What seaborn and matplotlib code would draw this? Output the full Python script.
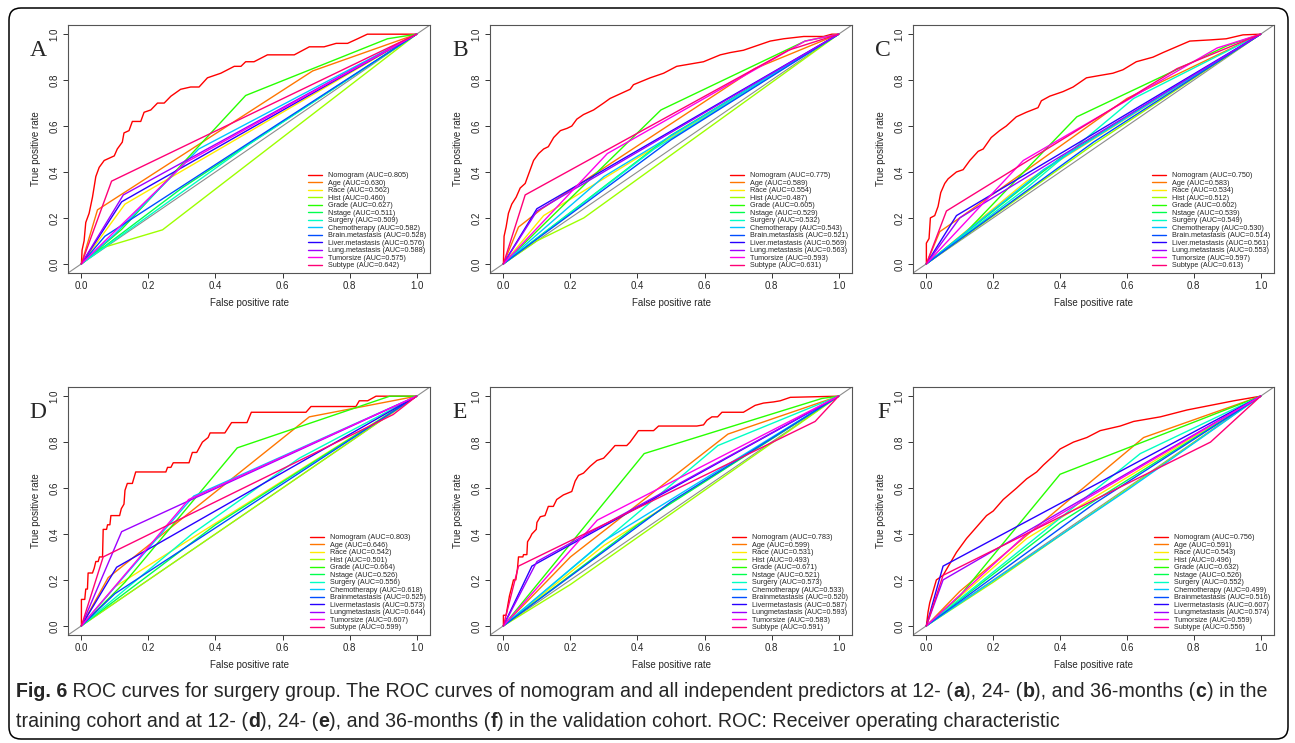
import colorsys
import matplotlib
matplotlib.use("Agg")
import matplotlib.pyplot as plt
from matplotlib.patches import FancyBboxPatch
import pandas as pd
import seaborn as sns

W, H = 1295, 743

# ---------------- data ----------------
names_train = ["Nomogram", "Age", "Race", "Hist", "Grade", "Nstage", "Surgery",
               "Chemotherapy", "Brain.metastasis", "Liver.metastasis",
               "Lung.metastasis", "Tumorsize", "Subtype"]
names_valid = ["Nomogram", "Age", "Race", "Hist", "Grade", "Nstage", "Surgery",
               "Chemotherapy", "Brainmetastasis", "Livermetastasis",
               "Lungmetastasis", "Tumorsize", "Subtype"]

A_auc = [0.805, 0.630, 0.562, 0.460, 0.627, 0.511, 0.509, 0.582, 0.528, 0.576, 0.588, 0.575, 0.642]
B_auc = [0.775, 0.589, 0.554, 0.487, 0.605, 0.529, 0.532, 0.543, 0.521, 0.569, 0.563, 0.593, 0.631]
C_auc = [0.750, 0.583, 0.534, 0.512, 0.602, 0.539, 0.549, 0.530, 0.514, 0.561, 0.553, 0.597, 0.613]
D_auc = [0.803, 0.646, 0.542, 0.501, 0.664, 0.526, 0.556, 0.618, 0.525, 0.573, 0.644, 0.607, 0.599]
E_auc = [0.783, 0.599, 0.531, 0.493, 0.671, 0.521, 0.573, 0.533, 0.520, 0.587, 0.593, 0.583, 0.591]
F_auc = [0.756, 0.591, 0.543, 0.496, 0.632, 0.526, 0.552, 0.499, 0.516, 0.607, 0.574, 0.559, 0.556]

A_nomogram = [(0, 0), (0.002, 0.06), (0.008, 0.10), (0.013, 0.18), (0.023, 0.22), (0.033, 0.29),
              (0.043, 0.38), (0.053, 0.42), (0.068, 0.45), (0.098, 0.47), (0.107, 0.50), (0.122, 0.53),
              (0.127, 0.57), (0.142, 0.58), (0.152, 0.62), (0.177, 0.62), (0.187, 0.66), (0.207, 0.67),
              (0.227, 0.70), (0.247, 0.70), (0.267, 0.73), (0.296, 0.76), (0.326, 0.77), (0.351, 0.77),
              (0.376, 0.81), (0.416, 0.83), (0.456, 0.86), (0.476, 0.86), (0.49, 0.88), (0.515, 0.88),
              (0.555, 0.91), (0.635, 0.91), (0.68, 0.945), (0.724, 0.945), (0.76, 0.96), (0.794, 0.96),
              (0.824, 0.98), (0.853, 1.0), (1, 1)]
A_predictors = [
    [(0, 0), (0.048, 0.235), (0.69, 0.84), (1, 1)],
    [(0, 0), (0.13, 0.26), (1, 1)],
    [(0, 0), (0.058, 0.068), (0.242, 0.148), (1, 1)],
    [(0, 0), (0.12, 0.15), (0.49, 0.733), (0.913, 0.98), (1, 1)],
    [(0, 0), (0.3, 0.33), (1, 1)],
    [(0, 0), (0.5, 0.52), (1, 1)],
    [(0, 0), (0.1, 0.13), (0.35, 0.5), (1, 1)],
    [(0, 0), (0.07, 0.12), (1, 1)],
    [(0, 0), (0.12, 0.27), (1, 1)],
    [(0, 0), (0.125, 0.30), (1, 1)],
    [(0, 0), (0.31, 0.44), (1, 1)],
    [(0, 0), (0.09, 0.36), (1, 1)],
]

B_nomogram = [(0, 0), (0.002, 0.12), (0.008, 0.16), (0.015, 0.22), (0.025, 0.26), (0.038, 0.29),
              (0.05, 0.33), (0.065, 0.35), (0.075, 0.39), (0.09, 0.45), (0.105, 0.48), (0.12, 0.50),
              (0.134, 0.51), (0.15, 0.55), (0.17, 0.58), (0.19, 0.59), (0.204, 0.60), (0.219, 0.63),
              (0.239, 0.65), (0.269, 0.67), (0.299, 0.70), (0.318, 0.72), (0.348, 0.74), (0.378, 0.76),
              (0.388, 0.78), (0.438, 0.81), (0.478, 0.83), (0.517, 0.86), (0.557, 0.87), (0.597, 0.88),
              (0.647, 0.91), (0.677, 0.92), (0.716, 0.93), (0.756, 0.95), (0.796, 0.97), (0.836, 0.98),
              (0.896, 0.99), (0.955, 0.99), (0.98, 1.0), (1, 1)]
B_predictors = [
    [(0, 0), (0.045, 0.16), (0.115, 0.24), (0.75, 0.85), (1, 1)],
    [(0, 0), (0.12, 0.21), (1, 1)],
    [(0, 0), (0.1, 0.1), (0.24, 0.2), (1, 1)],
    [(0, 0), (0.47, 0.67), (0.9, 0.97), (1, 1)],
    [(0, 0), (0.5, 0.56), (1, 1)],
    [(0, 0), (0.45, 0.5), (1, 1)],
    [(0, 0), (0.3, 0.38), (1, 1)],
    [(0, 0), (0.5, 0.54), (1, 1)],
    [(0, 0), (0.1, 0.24), (1, 1)],
    [(0, 0), (0.1, 0.23), (1, 1)],
    [(0, 0), (0.31, 0.48), (0.9, 0.97), (1, 1)],
    [(0, 0), (0.065, 0.30), (0.85, 0.93), (1, 1)],
]

C_nomogram = [(0, 0), (0, 0.09), (0.008, 0.11), (0.012, 0.2), (0.025, 0.21), (0.035, 0.25),
              (0.043, 0.31), (0.055, 0.35), (0.065, 0.37), (0.09, 0.40), (0.11, 0.41), (0.13, 0.45),
              (0.155, 0.49), (0.17, 0.50), (0.194, 0.55), (0.219, 0.58), (0.239, 0.60), (0.269, 0.64),
              (0.299, 0.66), (0.334, 0.68), (0.344, 0.71), (0.369, 0.73), (0.409, 0.75), (0.439, 0.77),
              (0.479, 0.81), (0.518, 0.82), (0.558, 0.83), (0.588, 0.845), (0.628, 0.88), (0.678, 0.90),
              (0.708, 0.92), (0.748, 0.945), (0.788, 0.97), (0.848, 0.975), (0.897, 0.98),
              (0.947, 0.997), (1, 1)]
C_predictors = [
    [(0, 0), (0.04, 0.14), (0.1, 0.2), (0.6, 0.72), (1, 1)],
    [(0, 0), (0.3, 0.36), (1, 1)],
    [(0, 0), (0.5, 0.52), (1, 1)],
    [(0, 0), (0.12, 0.14), (0.45, 0.64), (0.9, 0.95), (1, 1)],
    [(0, 0), (0.4, 0.46), (1, 1)],
    [(0, 0), (0.3, 0.33), (0.62, 0.72), (1, 1)],
    [(0, 0), (0.35, 0.41), (1, 1)],
    [(0, 0), (0.5, 0.53), (1, 1)],
    [(0, 0), (0.09, 0.21), (1, 1)],
    [(0, 0), (0.1, 0.2), (1, 1)],
    [(0, 0), (0.29, 0.45), (0.87, 0.94), (1, 1)],
    [(0, 0), (0.06, 0.23), (0.75, 0.85), (1, 1)],
]

D_nomogram = [(0, 0), (0, 0.115), (0.01, 0.115), (0.013, 0.16), (0.018, 0.16), (0.02, 0.23),
              (0.033, 0.23), (0.038, 0.25), (0.043, 0.28), (0.05, 0.28), (0.054, 0.30), (0.063, 0.30),
              (0.065, 0.42), (0.075, 0.42), (0.078, 0.44), (0.085, 0.44), (0.088, 0.48), (0.114, 0.48),
              (0.119, 0.51), (0.127, 0.53), (0.13, 0.59), (0.137, 0.62), (0.152, 0.62), (0.162, 0.67),
              (0.252, 0.67), (0.257, 0.69), (0.267, 0.69), (0.274, 0.71), (0.321, 0.71), (0.331, 0.755),
              (0.344, 0.755), (0.361, 0.80), (0.378, 0.82), (0.384, 0.84), (0.428, 0.84), (0.448, 0.885),
              (0.494, 0.885), (0.507, 0.93), (0.67, 0.93), (0.685, 0.955), (0.819, 0.955), (0.829, 0.98),
              (0.854, 0.98), (0.879, 1.0), (1, 1)]
D_predictors = [
    [(0, 0), (0.08, 0.21), (0.68, 0.91), (1, 1)],
    [(0, 0), (0.1, 0.17), (1, 1)],
    [(0, 0), (0.2, 0.2), (1, 1)],
    [(0, 0), (0.13, 0.19), (0.465, 0.775), (0.92, 1.0), (1, 1)],
    [(0, 0), (0.4, 0.44), (1, 1)],
    [(0, 0), (0.33, 0.4), (0.65, 0.73), (1, 1)],
    [(0, 0), (0.335, 0.565), (1, 1)],
    [(0, 0), (0.1, 0.14), (1, 1)],
    [(0, 0), (0.105, 0.255), (1, 1)],
    [(0, 0), (0.12, 0.41), (1, 1)],
    [(0, 0), (0.32, 0.55), (1, 1)],
    [(0, 0), (0.065, 0.30), (0.93, 0.92), (1, 1)],
]

E_nomogram = [(0, 0), (0, 0.046), (0.008, 0.046), (0.012, 0.08), (0.018, 0.13), (0.025, 0.17),
              (0.03, 0.2), (0.037, 0.2), (0.042, 0.25), (0.045, 0.30), (0.058, 0.30), (0.06, 0.31),
              (0.07, 0.31), (0.072, 0.366), (0.08, 0.385), (0.085, 0.40), (0.098, 0.42), (0.1, 0.45),
              (0.11, 0.475), (0.124, 0.48), (0.134, 0.52), (0.149, 0.52), (0.159, 0.55), (0.179, 0.57),
              (0.204, 0.585), (0.214, 0.63), (0.224, 0.655), (0.239, 0.665), (0.259, 0.695),
              (0.279, 0.72), (0.299, 0.73), (0.318, 0.76), (0.333, 0.785), (0.368, 0.785), (0.378, 0.80),
              (0.403, 0.85), (0.448, 0.85), (0.463, 0.87), (0.577, 0.87), (0.597, 0.875), (0.607, 0.895),
              (0.622, 0.91), (0.639, 0.91), (0.652, 0.93), (0.716, 0.93), (0.751, 0.96), (0.776, 0.97),
              (0.806, 0.975), (0.826, 0.98), (0.856, 0.995), (1, 1)]
E_predictors = [
    [(0, 0), (0.2, 0.3), (0.67, 0.835), (1, 1)],
    [(0, 0), (0.3, 0.35), (1, 1)],
    [(0, 0), (0.2, 0.18), (1, 1)],
    [(0, 0), (0.42, 0.75), (0.95, 0.99), (1, 1)],
    [(0, 0), (0.4, 0.44), (1, 1)],
    [(0, 0), (0.64, 0.785), (1, 1)],
    [(0, 0), (0.3, 0.37), (1, 1)],
    [(0, 0), (0.5, 0.54), (1, 1)],
    [(0, 0), (0.085, 0.26), (1, 1)],
    [(0, 0), (0.1, 0.28), (1, 1)],
    [(0, 0), (0.28, 0.46), (1, 1)],
    [(0, 0), (0.045, 0.26), (0.93, 0.89), (1, 1)],
]

F_nomogram = [(0, 0), (0.005, 0.06), (0.01, 0.1), (0.02, 0.15), (0.03, 0.2), (0.05, 0.22),
              (0.07, 0.27), (0.09, 0.32), (0.12, 0.38), (0.15, 0.43), (0.18, 0.48), (0.2, 0.5),
              (0.23, 0.55), (0.27, 0.6), (0.3, 0.64), (0.33, 0.67), (0.35, 0.7), (0.38, 0.74),
              (0.4, 0.77), (0.44, 0.8), (0.48, 0.82), (0.52, 0.85), (0.58, 0.87), (0.62, 0.89),
              (0.7, 0.91), (0.78, 0.94), (0.85, 0.96), (0.92, 0.98), (1, 1)]
F_predictors = [
    [(0, 0), (0.1, 0.15), (0.65, 0.82), (1, 1)],
    [(0, 0), (0.3, 0.38), (1, 1)],
    [(0, 0), (0.2, 0.19), (1, 1)],
    [(0, 0), (0.1, 0.13), (0.4, 0.66), (1, 1)],
    [(0, 0), (0.4, 0.45), (1, 1)],
    [(0, 0), (0.64, 0.75), (1, 1)],
    [(0, 0), (0.6, 0.59), (1, 1)],
    [(0, 0), (0.5, 0.53), (1, 1)],
    [(0, 0), (0.05, 0.26), (1, 1)],
    [(0, 0), (0.05, 0.2), (1, 1)],
    [(0, 0), (0.3, 0.4), (1, 1)],
    [(0, 0), (0.05, 0.22), (0.85, 0.8), (1, 1)],
]

tick_values = [0.0, 0.2, 0.4, 0.6, 0.8, 1.0]
tick_labels = ["0.0", "0.2", "0.4", "0.6", "0.8", "1.0"]

caption_line1 = [("Fig. 6", True),
                 (" ROC curves for surgery group. The ROC curves of nomogram and all independent "
                  "predictors at 12- (", False),
                 ("a", True), ("), 24- (", False), ("b", True), ("), and 36-months (", False),
                 ("c", True), (") in the", False)]
caption_line2 = [("training cohort and at 12- (", False), ("d", True), ("), 24- (", False),
                 ("e", True), ("), and 36-months (", False), ("f", True),
                 (") in the validation cohort. ROC: Receiver operating characteristic", False)]

# ---------------- style ----------------
sns.set_style("ticks")
plt.rcParams['font.family'] = ['Liberation Sans', 'DejaVu Sans']

colors = [colorsys.hsv_to_rgb(i / 13.0, 1.0, 1.0) for i in range(13)]

fig = plt.figure(figsize=(W / 100, H / 100), dpi=100)

# outer rounded frame
frame = FancyBboxPatch((9 / 100, (H - 739) / 100), (1288 - 9) / 100, (739 - 8) / 100,
                       boxstyle="round,pad=0,rounding_size=0.12",
                       transform=fig.dpi_scale_trans, fill=False, edgecolor='black', lw=1.1)
fig.add_artist(frame)

panels = [
    ("A", A_nomogram, A_predictors, A_auc, names_train, (68, 25, 430, 273), (38, 51)),
    ("B", B_nomogram, B_predictors, B_auc, names_train, (490, 25, 852, 273), (460, 50)),
    ("C", C_nomogram, C_predictors, C_auc, names_train, (913, 25, 1274, 273), (883, 50)),
    ("D", D_nomogram, D_predictors, D_auc, names_valid, (68, 387, 430, 635), (38, 413)),
    ("E", E_nomogram, E_predictors, E_auc, names_valid, (490, 387, 852, 635), (460, 413)),
    ("F", F_nomogram, F_predictors, F_auc, names_valid, (913, 387, 1274, 635), (884, 413)),
]

for letter, nomo, preds, aucs, names, box, lpos in panels:
    x0, y0, x1, y1 = box
    ax = fig.add_axes([x0 / W, 1 - y1 / H, (x1 - x0) / W, (y1 - y0) / H])
    ax.axline((0, 0), (1, 1), color='#8c8c8c', lw=0.8, zorder=0)
    curves = [nomo] + preds
    for i, pts in enumerate(curves):
        df = pd.DataFrame(pts, columns=["fpr", "tpr"])
        sns.lineplot(data=df, x="fpr", y="tpr", ax=ax, sort=False, estimator=None,
                     color=colors[i], lw=1.0,
                     label=f"{names[i]} (AUC={aucs[i]:.3f})")
    ax.set_xlim(-0.04, 1.04)
    ax.set_ylim(-0.04, 1.04)
    ax.set_xticks(tick_values)
    ax.set_xticklabels(tick_labels, fontsize=7.0)
    ax.set_yticks(tick_values)
    ax.set_yticklabels(tick_labels, fontsize=7.0, rotation=90, va='center')
    ax.tick_params(length=3.5, width=0.7, color='#333333', pad=2.5)
    ax.set_xlabel("False positive rate", fontsize=7.0)
    ax.set_ylabel("True positive rate", fontsize=7.0)
    ax.xaxis.set_label_coords(0.5, -25.0 / (y1 - y0))
    ax.yaxis.set_label_coords(-27.0 / (x1 - x0), 0.5)
    for sp in ax.spines.values():
        sp.set_color('#555555')
        sp.set_linewidth(0.8)
    handles, labels = ax.get_legend_handles_labels()
    ax.legend(handles, labels, loc='lower right', bbox_to_anchor=(1.0, 0.0), frameon=False,
              fontsize=5.2, labelspacing=0.06, handlelength=2.0, handletextpad=0.8,
              borderaxespad=0.25, borderpad=0.3)
    fig.text(lpos[0] / W, 1 - lpos[1] / H, letter, family=['Liberation Serif', 'DejaVu Serif'],
             fontsize=17, ha='center', va='center')

# ---------------- caption ----------------
cap_family = ['Liberation Sans Narrow', 'Liberation Sans', 'DejaVu Sans']
renderer = fig.canvas.get_renderer()


def draw_line(pieces, x_px, y_px, fs):
    x = x_px
    texts = []
    for txt, bold in pieces:
        t = fig.text(x / W, 1 - y_px / H, txt, fontsize=fs, family=cap_family,
                     fontweight='bold' if bold else 'normal', ha='left', va='baseline')
        x += t.get_window_extent(renderer).width
        texts.append(t)
    return x, texts


fs0 = 14.0
end, tmp = draw_line(caption_line1, 16, 697, fs0)
for t in tmp:
    t.remove()
fs = fs0 * (1265 - 16) / (end - 16)
draw_line(caption_line1, 16, 697, fs)
draw_line(caption_line2, 16, 727, fs)

fig.savefig("out.png", dpi=100)
